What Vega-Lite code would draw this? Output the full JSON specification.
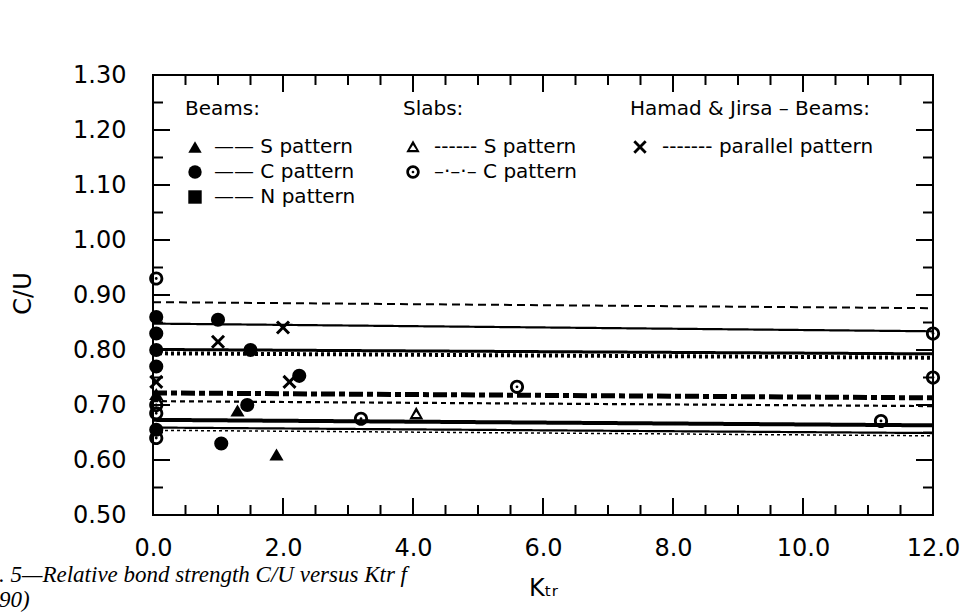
{
  "$schema": "https://vega.github.io/schema/vega-lite/v6.json",
  "width": 780,
  "height": 440,
  "autosize": {"type": "none"},
  "padding": {"left": 153, "top": 75, "right": 28, "bottom": 98},
  "background": "white",
  "config": {
    "view": {"stroke": "black", "strokeWidth": 2},
    "font": "DejaVu Sans",
    "axis": {"grid": false, "domain": false, "ticks": false, "labelColor": "black", "titleColor": "black"}
  },
  "title": {
    "text": [". 5—Relative bond strength C/U versus Ktr f", "90)"],
    "orient": "bottom",
    "anchor": "start",
    "frame": "bounds",
    "font": "Liberation Serif",
    "fontStyle": "italic",
    "fontWeight": "normal",
    "fontSize": 23,
    "color": "black",
    "lineHeight": 25,
    "dx": -12,
    "dy": -40
  },
  "datasets": {
    "xMajor": [{"v": 0}, {"v": 2}, {"v": 4}, {"v": 6}, {"v": 8}, {"v": 10}, {"v": 12}],
    "xMinor": [{"v": 0.5}, {"v": 1}, {"v": 1.5}, {"v": 2.5}, {"v": 3}, {"v": 3.5}, {"v": 4.5}, {"v": 5}, {"v": 5.5}, {"v": 6.5}, {"v": 7}, {"v": 7.5}, {"v": 8.5}, {"v": 9}, {"v": 9.5}, {"v": 10.5}, {"v": 11}, {"v": 11.5}],
    "yMajor": [{"v": 0.6}, {"v": 0.7}, {"v": 0.8}, {"v": 0.9}, {"v": 1.0}, {"v": 1.1}, {"v": 1.2}],
    "yMinor": [{"v": 0.55}, {"v": 0.65}, {"v": 0.75}, {"v": 0.85}, {"v": 0.95}, {"v": 1.05}, {"v": 1.15}, {"v": 1.25}],
    "lines": [
      {"line": "a", "x": 0, "y": 0.887}, {"line": "a", "x": 12, "y": 0.876},
      {"line": "b", "x": 0, "y": 0.848}, {"line": "b", "x": 12, "y": 0.834},
      {"line": "c", "x": 0, "y": 0.801}, {"line": "c", "x": 12, "y": 0.793},
      {"line": "d", "x": 0, "y": 0.794}, {"line": "d", "x": 12, "y": 0.786},
      {"line": "e", "x": 0, "y": 0.722}, {"line": "e", "x": 12, "y": 0.713},
      {"line": "f", "x": 0, "y": 0.707}, {"line": "f", "x": 12, "y": 0.698},
      {"line": "g", "x": 0, "y": 0.673}, {"line": "g", "x": 12, "y": 0.663},
      {"line": "h", "x": 0, "y": 0.659}, {"line": "h", "x": 12, "y": 0.649},
      {"line": "i", "x": 0, "y": 0.654}, {"line": "i", "x": 12, "y": 0.644}
    ],
    "beams": [
      {"pattern": "S pattern", "x": 0.05, "y": 0.72},
      {"pattern": "S pattern", "x": 1.3, "y": 0.69},
      {"pattern": "S pattern", "x": 1.9, "y": 0.61},
      {"pattern": "C pattern", "x": 0.05, "y": 0.86},
      {"pattern": "C pattern", "x": 0.05, "y": 0.83},
      {"pattern": "C pattern", "x": 0.05, "y": 0.80},
      {"pattern": "C pattern", "x": 0.05, "y": 0.77},
      {"pattern": "C pattern", "x": 0.05, "y": 0.655},
      {"pattern": "C pattern", "x": 1.0, "y": 0.855},
      {"pattern": "C pattern", "x": 1.5, "y": 0.80},
      {"pattern": "C pattern", "x": 2.25, "y": 0.753},
      {"pattern": "C pattern", "x": 1.45, "y": 0.70},
      {"pattern": "C pattern", "x": 1.05, "y": 0.63}
    ],
    "slabs": [
      {"pattern": "S pattern", "x": 4.05, "y": 0.684},
      {"pattern": "C pattern", "x": 0.05, "y": 0.93},
      {"pattern": "C pattern", "x": 0.05, "y": 0.70},
      {"pattern": "C pattern", "x": 0.05, "y": 0.685},
      {"pattern": "C pattern", "x": 0.05, "y": 0.64},
      {"pattern": "C pattern", "x": 3.2, "y": 0.675},
      {"pattern": "C pattern", "x": 5.6, "y": 0.733},
      {"pattern": "C pattern", "x": 11.2, "y": 0.671},
      {"pattern": "C pattern", "x": 12.0, "y": 0.83},
      {"pattern": "C pattern", "x": 12.0, "y": 0.75}
    ],
    "hamad": [
      {"pattern": "parallel pattern", "x": 0.05, "y": 0.742},
      {"pattern": "parallel pattern", "x": 1.0, "y": 0.815},
      {"pattern": "parallel pattern", "x": 2.0, "y": 0.841},
      {"pattern": "parallel pattern", "x": 2.1, "y": 0.742}
    ]
  },
  "layer": [
    {
      "data": {"name": "lines"},
      "mark": {"type": "line", "color": "black", "clip": true},
      "encoding": {
        "x": {
          "field": "x", "type": "quantitative",
          "scale": {"domain": [0, 12], "nice": false, "zero": false},
          "axis": {
            "orient": "bottom",
            "values": [0, 2, 4, 6, 8, 10, 12],
            "format": ".1f",
            "labelFontSize": 24,
            "labelPadding": 21,
            "labelFlush": false,
            "labelOverlap": false,
            "title": "Kₜᵣ",
            "titleFontSize": 24,
            "titleFontWeight": "normal",
            "titleY": 73,
            "titleBaseline": "middle"
          }
        },
        "y": {
          "field": "y", "type": "quantitative",
          "scale": {"domain": [0.5, 1.3], "nice": false, "zero": false},
          "axis": {
            "orient": "left",
            "values": [0.5, 0.6, 0.7, 0.8, 0.9, 1.0, 1.1, 1.2, 1.3],
            "format": ".2f",
            "labelFontSize": 24,
            "labelPadding": 27,
            "labelFlush": false,
            "labelOverlap": false,
            "title": "C/U",
            "titleFontSize": 24,
            "titleFontWeight": "normal",
            "titleX": -130,
            "titleY": 218,
            "titleAngle": -90,
            "titleAlign": "center",
            "titleBaseline": "middle"
          }
        },
        "detail": {"field": "line"},
        "strokeDash": {
          "field": "line", "type": "nominal",
          "scale": {"type": "ordinal", "domain": ["a", "b", "c", "d", "e", "f", "g", "h", "i"], "range": [[8, 5], [1, 0], [1, 0], [3, 3], [14, 4, 6, 4], [5, 4], [1, 0], [1, 0], [3, 3]]},
          "legend": null
        },
        "strokeWidth": {
          "field": "line", "type": "nominal",
          "scale": {"type": "ordinal", "domain": ["a", "b", "c", "d", "e", "f", "g", "h", "i"], "range": [2, 2.2, 3, 4, 5, 2.2, 4, 2.2, 1.5]},
          "legend": null
        }
      }
    },
    {
      "data": {"name": "xMajor"},
      "mark": {"type": "tick", "color": "black", "orient": "vertical", "thickness": 2, "size": 17, "opacity": 1},
      "encoding": {
        "x": {"field": "v", "type": "quantitative", "scale": {"domain": [0, 12], "nice": false, "zero": false}, "axis": null},
        "y": {"datum": 0.5155, "type": "quantitative", "scale": {"domain": [0.5, 1.3], "nice": false, "zero": false}, "axis": null}
      }
    },
    {
      "data": {"name": "xMinor"},
      "mark": {"type": "tick", "color": "black", "orient": "vertical", "thickness": 2, "size": 10, "opacity": 1},
      "encoding": {
        "x": {"field": "v", "type": "quantitative", "scale": {"domain": [0, 12], "nice": false, "zero": false}, "axis": null},
        "y": {"datum": 0.5091, "type": "quantitative", "scale": {"domain": [0.5, 1.3], "nice": false, "zero": false}, "axis": null}
      }
    },
    {
      "data": {"name": "xMajor"},
      "mark": {"type": "tick", "color": "black", "orient": "vertical", "thickness": 2, "size": 17, "opacity": 1},
      "encoding": {
        "x": {"field": "v", "type": "quantitative", "scale": {"domain": [0, 12], "nice": false, "zero": false}, "axis": null},
        "y": {"datum": 1.2845, "type": "quantitative", "scale": {"domain": [0.5, 1.3], "nice": false, "zero": false}, "axis": null}
      }
    },
    {
      "data": {"name": "xMinor"},
      "mark": {"type": "tick", "color": "black", "orient": "vertical", "thickness": 2, "size": 10, "opacity": 1},
      "encoding": {
        "x": {"field": "v", "type": "quantitative", "scale": {"domain": [0, 12], "nice": false, "zero": false}, "axis": null},
        "y": {"datum": 1.2909, "type": "quantitative", "scale": {"domain": [0.5, 1.3], "nice": false, "zero": false}, "axis": null}
      }
    },
    {
      "data": {"name": "yMajor"},
      "mark": {"type": "tick", "color": "black", "orient": "horizontal", "thickness": 2, "size": 17, "opacity": 1},
      "encoding": {
        "y": {"field": "v", "type": "quantitative", "scale": {"domain": [0.5, 1.3], "nice": false, "zero": false}, "axis": null},
        "x": {"datum": 0.1308, "type": "quantitative", "scale": {"domain": [0, 12], "nice": false, "zero": false}, "axis": null}
      }
    },
    {
      "data": {"name": "yMinor"},
      "mark": {"type": "tick", "color": "black", "orient": "horizontal", "thickness": 2, "size": 10, "opacity": 1},
      "encoding": {
        "y": {"field": "v", "type": "quantitative", "scale": {"domain": [0.5, 1.3], "nice": false, "zero": false}, "axis": null},
        "x": {"datum": 0.0769, "type": "quantitative", "scale": {"domain": [0, 12], "nice": false, "zero": false}, "axis": null}
      }
    },
    {
      "data": {"name": "yMajor"},
      "mark": {"type": "tick", "color": "black", "orient": "horizontal", "thickness": 2, "size": 17, "opacity": 1},
      "encoding": {
        "y": {"field": "v", "type": "quantitative", "scale": {"domain": [0.5, 1.3], "nice": false, "zero": false}, "axis": null},
        "x": {"datum": 11.8692, "type": "quantitative", "scale": {"domain": [0, 12], "nice": false, "zero": false}, "axis": null}
      }
    },
    {
      "data": {"name": "yMinor"},
      "mark": {"type": "tick", "color": "black", "orient": "horizontal", "thickness": 2, "size": 10, "opacity": 1},
      "encoding": {
        "y": {"field": "v", "type": "quantitative", "scale": {"domain": [0.5, 1.3], "nice": false, "zero": false}, "axis": null},
        "x": {"datum": 11.9231, "type": "quantitative", "scale": {"domain": [0, 12], "nice": false, "zero": false}, "axis": null}
      }
    },
    {
      "data": {"name": "beams"},
      "mark": {"type": "point", "filled": true, "color": "black", "opacity": 1, "size": 200, "strokeWidth": 0},
      "encoding": {
        "x": {"field": "x", "type": "quantitative", "scale": {"domain": [0, 12], "nice": false, "zero": false}, "axis": null},
        "y": {"field": "y", "type": "quantitative", "scale": {"domain": [0.5, 1.3], "nice": false, "zero": false}, "axis": null},
        "shape": {
          "field": "pattern", "type": "nominal",
          "scale": {"domain": ["S pattern", "C pattern", "N pattern"], "range": ["triangle-up", "circle", "square"]},
          "legend": {
            "title": "Beams:", "orient": "none", "legendX": 32, "legendY": 24,
            "titleFontSize": 20, "titleFontWeight": "normal", "titleColor": "black", "titlePadding": 18, "titleLimit": 500,
            "labelFontSize": 20, "labelColor": "black", "labelOffset": 9, "labelLimit": 500,
            "labelExpr": "'——  ' + datum.label",
            "rowPadding": 5, "symbolSize": 180, "symbolFillColor": "black", "symbolStrokeWidth": 0, "symbolOpacity": 1
          }
        }
      }
    },
    {
      "data": {"name": "slabs"},
      "mark": {"type": "point", "filled": true, "color": "black", "opacity": 1, "size": 200, "strokeWidth": 0},
      "encoding": {
        "x": {"field": "x", "type": "quantitative", "scale": {"domain": [0, 12], "nice": false, "zero": false}, "axis": null},
        "y": {"field": "y", "type": "quantitative", "scale": {"domain": [0.5, 1.3], "nice": false, "zero": false}, "axis": null},
        "shape": {
          "field": "pattern", "type": "nominal",
          "scale": {
            "domain": ["S pattern", "C pattern"],
            "range": [
              "M0,-1L1,0.8L-1,0.8ZM0,-0.3L-0.5,0.45L0.5,0.45Z",
              "M-1,0A1,1,0,1,1,1,0A1,1,0,1,1,-1,0ZM-0.6,0A0.6,0.6,0,1,0,0.6,0A0.6,0.6,0,1,0,-0.6,0ZM-0.2,0A0.2,0.2,0,1,1,0.2,0A0.2,0.2,0,1,1,-0.2,0Z"
            ]
          },
          "legend": {
            "title": "Slabs:", "orient": "none", "legendX": 250, "legendY": 24,
            "titleFontSize": 20, "titleFontWeight": "normal", "titleColor": "black", "titlePadding": 18, "titleLimit": 500,
            "labelFontSize": 20, "labelColor": "black", "labelOffset": 11, "labelLimit": 500,
            "labelExpr": "(datum.label === 'S pattern' ? '------ ' : '–·–·– ') + datum.label",
            "rowPadding": 5, "symbolSize": 180, "symbolFillColor": "black", "symbolStrokeWidth": 0, "symbolOpacity": 1
          }
        }
      }
    },
    {
      "data": {"name": "hamad"},
      "mark": {"type": "point", "filled": true, "color": "black", "opacity": 1, "size": 200, "strokeWidth": 0},
      "encoding": {
        "x": {"field": "x", "type": "quantitative", "scale": {"domain": [0, 12], "nice": false, "zero": false}, "axis": null},
        "y": {"field": "y", "type": "quantitative", "scale": {"domain": [0.5, 1.3], "nice": false, "zero": false}, "axis": null},
        "shape": {
          "field": "pattern", "type": "nominal",
          "scale": {"domain": ["parallel pattern"], "range": ["M-1,-0.7L-0.7,-1L0,-0.3L0.7,-1L1,-0.7L0.3,0L1,0.7L0.7,1L0,0.3L-0.7,1L-1,0.7L-0.3,0Z"]},
          "legend": {
            "title": "Hamad & Jirsa – Beams:", "orient": "none", "legendX": 477, "legendY": 24,
            "titleFontSize": 20, "titleFontWeight": "normal", "titleColor": "black", "titlePadding": 18, "titleLimit": 500,
            "labelFontSize": 20, "labelColor": "black", "labelOffset": 12, "labelLimit": 500,
            "labelExpr": "'------- ' + datum.label",
            "rowPadding": 5, "symbolSize": 180, "symbolFillColor": "black", "symbolStrokeWidth": 0, "symbolOpacity": 1
          }
        }
      }
    }
  ],
  "resolve": {
    "scale": {"shape": "independent"},
    "legend": {"shape": "independent"},
    "axis": {"x": "independent", "y": "independent"}
  }
}
